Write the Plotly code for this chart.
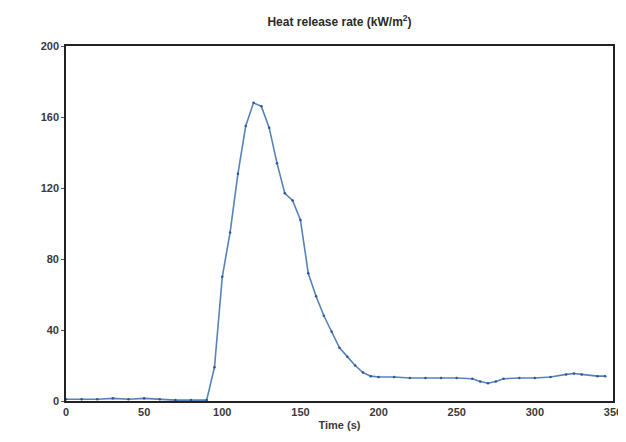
import plotly.graph_objects as go

# heat release rate curve
time_s = [0, 10, 20, 30, 40, 50, 60, 70, 80, 90, 95, 100, 105, 110, 115, 120, 125, 130,
          135, 140, 145, 150, 155, 160, 165, 170, 175, 180, 185, 190, 195, 200, 210, 220,
          230, 240, 250, 260, 265, 270, 275, 280, 290, 300, 310, 320, 325, 330, 340, 345]
hrr = [1, 1, 1, 1.5, 1, 1.5, 1, 0.5, 0.5, 0.5, 19, 70, 95, 128, 155, 168, 166, 154,
       134, 117, 113, 102, 72, 59, 48, 39, 30, 25, 20, 16, 14, 13.5, 13.5, 13,
       13, 13, 13, 12.5, 11, 10, 11, 12.5, 13, 13, 13.5, 15, 15.5, 15, 14, 14]

x_ticks = [0, 50, 100, 150, 200, 250, 300, 350]
y_ticks = [0, 40, 80, 120, 160, 200]

fig = go.Figure()
fig.add_trace(go.Scatter(x=time_s, y=hrr, mode='lines+markers',
                         line=dict(color='#5583ba', width=1.6),
                         marker=dict(size=2.5, color='#34558a'),
                         showlegend=False))

axis_font = dict(family='Liberation Sans, Arial, sans-serif', size=11, color='#3a3a3a')
fig.update_layout(
    width=626, height=442,
    margin=dict(l=58, r=14, t=38, b=49),
    paper_bgcolor='white', plot_bgcolor='white',
    title=dict(text='<b>Heat release rate (kW/m<sup>2</sup>)</b>', x=0.5, xref='paper',
               y=0.968, yanchor='middle',
               font=dict(family='Liberation Sans, Arial, sans-serif', size=12, color='#2a2a2a')),
    font=axis_font,
)
fig.update_xaxes(range=[0, 350], tickvals=x_ticks, ticktext=['<b>%d</b>' % v for v in x_ticks],
                 showgrid=False, zeroline=False, showline=True, linecolor='#222', linewidth=1.6,
                 mirror=True, ticks='', tickfont=axis_font,
                 title=dict(text='<b>Time (s)</b>', standoff=4, font=axis_font))
fig.update_yaxes(range=[0, 200], tickvals=y_ticks, ticktext=['<b>%d</b>' % v for v in y_ticks],
                 showgrid=False, zeroline=False, showline=True, linecolor='#222', linewidth=1.6,
                 mirror=True, ticks='outside', ticklen=3, tickcolor='#555', tickfont=axis_font)

fig.write_html('out.html')
